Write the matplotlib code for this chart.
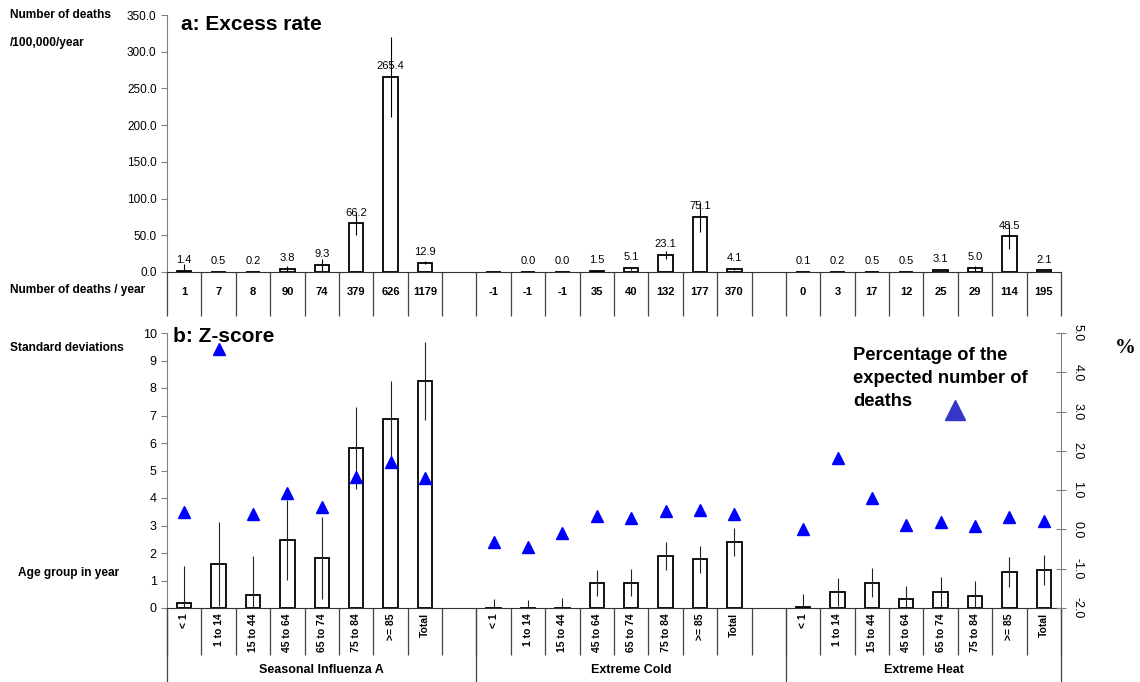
import numpy as np
import matplotlib
matplotlib.use("Agg")
import matplotlib.pyplot as plt
from matplotlib.transforms import blended_transform_factory
from matplotlib.lines import Line2D

plt.rcParams['font.family'] = ['Liberation Sans', 'DejaVu Sans']

age_groups = ['< 1', '1 to 14', '15 to 44', '45 to 64', '65 to 74', '75 to 84', '>= 85', 'Total']
causes = ['Seasonal Influenza A', 'Extreme Cold', 'Extreme Heat']

# a: excess mortality rate per 100,000 per year, with error half-widths
flu_rate = [1.4, 0.5, 0.2, 3.8, 9.3, 66.2, 265.4, 12.9]
cold_rate = [-0.1, 0.0, 0.0, 1.5, 5.1, 23.1, 75.1, 4.1]
heat_rate = [0.1, 0.2, 0.5, 0.5, 3.1, 5.0, 48.5, 2.1]
flu_rate_err = [9.5, 1.5, 1.0, 4.0, 8.0, 16.0, 54.5, 1.5]
cold_rate_err = [1.5, 1.0, 1.0, 1.0, 2.0, 5.5, 20.0, 1.5]
heat_rate_err = [1.0, 1.0, 1.0, 1.0, 1.5, 3.0, 17.5, 1.0]

# excess deaths per year
flu_deaths = [1, 7, 8, 90, 74, 379, 626, 1179]
cold_deaths = [-1, -1, -1, 35, 40, 132, 177, 370]
heat_deaths = [0, 3, 17, 12, 25, 29, 114, 195]

# b: z-scores (standard deviations) with error half-widths
flu_z = [0.18, 1.60, 0.48, 2.48, 1.82, 5.82, 6.88, 8.25]
cold_z = [-0.17, -0.21, -0.14, 0.91, 0.92, 1.89, 1.78, 2.40]
heat_z = [0.04, 0.58, 0.92, 0.33, 0.58, 0.44, 1.31, 1.38]
flu_z_err = [1.35, 1.53, 1.41, 1.45, 1.49, 1.49, 1.37, 1.42]
cold_z_err = [0.50, 0.50, 0.50, 0.49, 0.49, 0.51, 0.49, 0.50]
heat_z_err = [0.47, 0.51, 0.52, 0.47, 0.55, 0.54, 0.54, 0.55]

# percentage of the expected number of deaths
flu_pct = [0.44, 4.59, 0.39, 0.93, 0.57, 1.33, 1.72, 1.31]
cold_pct = [-0.32, -0.45, -0.09, 0.34, 0.29, 0.47, 0.49, 0.39]
heat_pct = [0.01, 1.82, 0.80, 0.11, 0.19, 0.09, 0.32, 0.21]

# 8 age groups + one empty slot per cause
x = np.concatenate([np.arange(8), np.arange(9, 17), np.arange(18, 26)])
rate = np.array(flu_rate + cold_rate + heat_rate)
rate_err = np.array(flu_rate_err + cold_rate_err + heat_rate_err)
deaths = flu_deaths + cold_deaths + heat_deaths
z = np.array(flu_z + cold_z + heat_z)
z_err = np.array(flu_z_err + cold_z_err + heat_z_err)
pct = np.array(flu_pct + cold_pct + heat_pct)

W, H = 1140, 682
fig = plt.figure(figsize=(W / 100, H / 100), dpi=100)

def fx(px):
    return px / W

def fy(py):
    return 1 - py / H

L, R = fx(167), fx(1061)
ax1 = fig.add_axes([L, fy(272), R - L, fy(15) - fy(272)])
ax2 = fig.add_axes([L, fy(608), R - L, fy(333) - fy(608)])
ax2r = ax2.twinx()

grey = '#808080'
bar_w = 0.42

# ---- panel a
ax1.bar(x, rate, width=bar_w, color='white', edgecolor='black', linewidth=1.3, zorder=2)
ax1.errorbar(x, rate, yerr=rate_err, fmt='none', ecolor='black', elinewidth=0.8, capsize=0, zorder=3)
for xi, v, e in zip(x, rate, rate_err):
    if v < 0:
        continue
    ax1.text(xi, max(v, 0) + 8, '%.1f' % v, ha='center', va='bottom', fontsize=8)
ax1.set_xlim(-0.5, 25.5)
ax1.set_ylim(0, 350)
ax1.set_yticks(np.arange(0, 351, 50))
ax1.set_yticklabels(['%.1f' % t for t in np.arange(0, 351, 50)])
ax1.set_xticks([])
for s in ['top', 'right']:
    ax1.spines[s].set_visible(False)
ax1.spines['left'].set_color(grey)
ax1.spines['bottom'].set_color('#333333')
ax1.tick_params(axis='y', colors=grey, labelcolor='black', labelsize=8.5, length=4, direction='out')

bounds = np.arange(27) - 0.5
tr1 = blended_transform_factory(ax1.transData, fig.transFigure)
ax1.vlines(bounds, fy(316), fy(272), transform=tr1, colors='#444444', linewidth=0.9, clip_on=False)
for xi, d in zip(x, deaths):
    ax1.text(xi, fy(292), str(d), transform=tr1, ha='center', va='center',
             fontsize=8, fontweight='bold')

# ---- panel b
ax2.bar(x, z, width=bar_w, color='white', edgecolor='black', linewidth=1.3, zorder=2)
ax2.errorbar(x, z, yerr=z_err, fmt='none', ecolor='#222222', elinewidth=0.8, capsize=0, zorder=3)
ax2.set_xlim(-0.5, 25.5)
ax2.set_ylim(0, 10)
ax2.set_yticks(range(0, 11))
ax2.set_xticks([])
ax2.spines['top'].set_visible(False)
ax2.spines['right'].set_visible(False)
ax2.spines['left'].set_color(grey)
ax2.spines['bottom'].set_color('#333333')
ax2.tick_params(axis='y', colors=grey, labelcolor='black', labelsize=9, length=4, direction='out')

ax2r.plot(x, pct, linestyle='none', marker='^', markersize=8, color='#0000ff', zorder=4)
ax2r.set_ylim(-2, 5)
ax2r.set_yticks(np.arange(-2, 5.01, 1))
ax2r.set_yticklabels(['%.1f' % t for t in np.arange(-2, 5.01, 1)], rotation=-90, va='center')
for s in ['top', 'left', 'bottom']:
    ax2r.spines[s].set_visible(False)
ax2r.spines['right'].set_color(grey)
ax2r.tick_params(axis='y', colors=grey, labelcolor='black', labelsize=9, length=7, direction='inout', pad=4)

tr2 = blended_transform_factory(ax2.transData, fig.transFigure)
ax2.vlines(bounds, fy(655), fy(608), transform=tr2, colors='#444444', linewidth=0.9, clip_on=False)
ax2.vlines([-0.5, 8.5, 17.5, 25.5], fy(H), fy(608), transform=tr2, colors='#444444', linewidth=0.9, clip_on=False)
for i, xi in enumerate(x):
    ax2.text(xi, fy(613), age_groups[i % 8], transform=tr2, rotation=90, ha='center', va='top',
             fontsize=7.5, fontweight='bold')
for xc, name in zip([4, 13, 21.5], causes):
    ax2.text(xc, fy(670), name, transform=tr2, ha='center', va='center',
             fontsize=9, fontweight='bold')

# titles and side labels
fig.text(fx(181), fy(24), 'a: Excess rate', fontsize=15, fontweight='bold', va='center')
fig.text(fx(173), fy(337), 'b: Z-score', fontsize=15, fontweight='bold', va='center')
side = dict(fontsize=8.6, fontweight='bold', va='center', ha='left')
fig.text(fx(10), fy(15), 'Number of deaths', **side)
fig.text(fx(10), fy(43), '/100,000/year', **side)
fig.text(fx(10), fy(290), 'Number of deaths / year', **side)
fig.text(fx(10), fy(348), 'Standard deviations', **side)
fig.text(fx(18), fy(573), 'Age group in year', **side)
fig.text(fx(1125), fy(348), '%', family='Liberation Serif', fontsize=15, fontweight='bold',
         ha='center', va='center')

# legend for the triangles
fig.text(fx(853), fy(347), 'Percentage of the\nexpected number of\ndeaths', fontsize=13.2,
         fontweight='bold', va='top', ha='left', linespacing=1.45)
fig.add_artist(Line2D([fx(955)], [fy(410)], marker='^', markersize=14, color='#3535c8',
                      linestyle='none', transform=fig.transFigure))

fig.savefig('out.png', dpi=100)
